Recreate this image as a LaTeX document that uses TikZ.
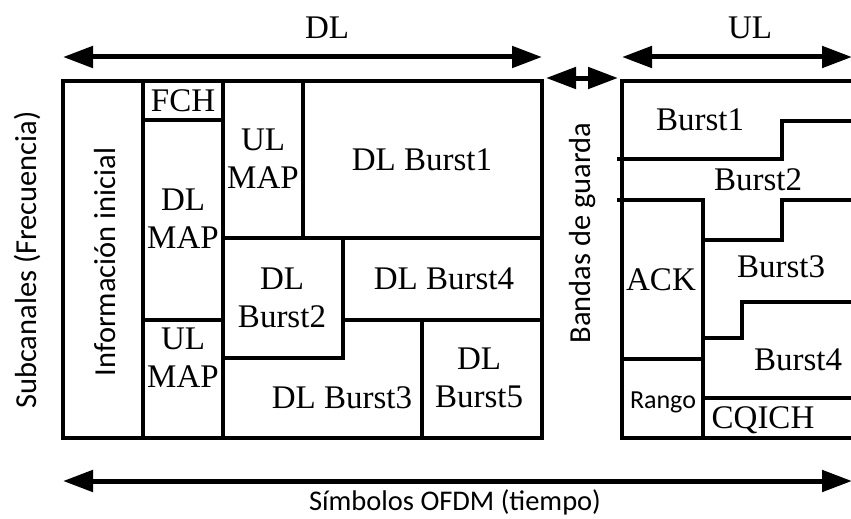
\documentclass[tikz,border=0pt]{standalone}
\usepackage{fontspec}
\setmainfont{Liberation Serif}
\newfontfamily\calib{Carlito}
\usetikzlibrary{arrows.meta}
\begin{document}
\begin{tikzpicture}[x=1pt,y=-1pt,
  wall/.style={line width=4pt, line cap=rect, line join=miter},
  lbl/.style={font=\fontsize{33}{38}\selectfont, align=center, inner sep=0pt},
  sans/.style={font=\calib\fontsize{30.5}{34}\selectfont, inner sep=0pt},
  small/.style={font=\calib\fontsize{26}{30}\selectfont, inner sep=0pt},
  dimarrow/.style={line width=5pt, {Triangle[length=30pt,width=21pt]}-{Triangle[length=30pt,width=21pt]}}]
\useasboundingbox (0,0) rectangle (851,519);
% ---------- DL frame
\draw[wall] (63,81) rectangle (542,438);
\draw[wall] (143,81) -- (143,438);
\draw[wall] (143,120) -- (223,120);
\draw[wall] (223,81) -- (223,438);
\draw[wall] (303,81) -- (303,238);
\draw[wall] (143,320) -- (223,320);
\draw[wall] (223,238) -- (542,238);
\draw[wall] (343,238) -- (343,358);
\draw[wall] (223,358) -- (343,358);
\draw[wall] (343,320) -- (542,320);
\draw[wall] (422,320) -- (422,438);
% ---------- UL frame
\draw[wall] (870,81) -- (622,81) -- (622,438) -- (870,438);
\draw[wall] (619,159) -- (782,159) -- (782,121) -- (870,121);
\draw[wall] (619,200) -- (703,200) -- (703,438);
\draw[wall] (703,240) -- (782,240) -- (782,200) -- (870,200);
\draw[wall] (703,338) -- (742,338) -- (742,302) -- (870,302);
\draw[wall] (622,359) -- (703,359);
\draw[wall] (703,398) -- (870,398);
% ---------- labels DL
\node[lbl] (fch) at (183,101) {FCH};
\node[lbl] (dlmap) at (183,219) {DL\\MAP};
\node[lbl] (ulmap2) at (183,358) {UL\\MAP};
\node[lbl] (ulmap1) at (263,159) {UL\\MAP};
\node[lbl] (dlb1) at (422,160) {DL Burst1};
\node[lbl] (dlb2) at (282,298) {DL\\Burst2};
\node[lbl] (dlb4) at (444,279) {DL Burst4};
\node[lbl] (dlb3) at (342,398) {DL Burst3};
\node[lbl] (dlb5) at (479,378) {DL\\Burst5};
\node[sans, rotate=90] (info) at (105,262) {Información inicial};
% ---------- labels UL
\node[lbl] (b1) at (700,120) {Burst1};
\node[lbl] (b2) at (758,180) {Burst2};
\node[lbl] (b3) at (781,267) {Burst3};
\node[lbl] (ack) at (661,280) {ACK};
\node[lbl] (b4) at (798,360) {Burst4};
\node[small] (rango) at (663,402) {Rango};
\node[lbl] (cqich) at (763,420) {CQICH};
% ---------- outer labels
\node[sans, rotate=90] (sub) at (27,260) {Subcanales (Frecuencia)};
\node[sans, rotate=90] (guard) at (583,233) {Bandas de guarda};
\node[sans, font=\calib\fontsize{28.5}{32}\selectfont] (sym) at (455,502) {Símbolos OFDM (tiempo)};
\node[lbl] (dl) at (327,28) {DL};
\node[lbl] (ul) at (750,28) {UL};
% ---------- dimension arrows
\coordinate (dlA) at (63,57);
\coordinate (dlB) at (542,57);
\coordinate (ulA) at (622,57);
\coordinate (ulB) at (852,57);
\coordinate (gA) at (546,78);
\coordinate (gB) at (618,78);
\coordinate (tA) at (63,481);
\coordinate (tB) at (852,481);
\draw[dimarrow] (dlA) -- (dlB);
\draw[dimarrow] (ulA) -- (ulB);
\draw[dimarrow] (gA) -- (gB);
\draw[dimarrow] (tA) -- (tB);
\end{tikzpicture}
\end{document}
